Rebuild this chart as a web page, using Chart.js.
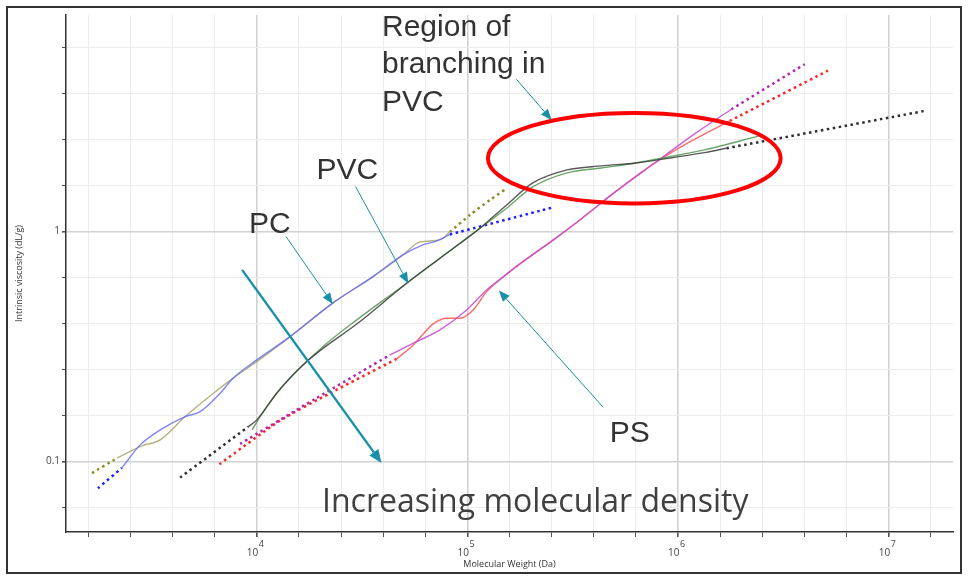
<!DOCTYPE html>
<html lang="en">
<head>
  <meta charset="UTF-8">
  <title>Intrinsic viscosity vs molecular weight</title>
  <script src="https://cdn.jsdelivr.net/npm/chart.js@4.4.1/dist/chart.umd.min.js"></script>
  <style>
    body { margin: 0; background: #fff; }
    #wrap { width: 968px; height: 582px; }
  </style>
</head>
<body>
<div id="wrap"><canvas id="myChart" width="968" height="582"></canvas></div>

<script>
    // [molecular weight (Da), intrinsic viscosity (dL/g)]
    // PC sample A (blue)
    const pcA = [[2289, 0.0939], [2795, 0.1182], [3478, 0.1373], [4570, 0.1569], [5383, 0.1650],
        [6696, 0.1983], [7719, 0.2305], [10000, 0.2768], [14390, 0.3495], [23010, 0.4898],
        [35620, 0.6372], [49430, 0.7917], [61500, 0.8753], [71670, 0.9111], [82600, 0.9723]];
    const pcAFitLow = [[1761, 0.0766], [2289, 0.0939]];
    const pcAFitHigh = [[82600, 0.9723], [252500, 1.272]];

    // PC sample B (olive)
    const pcB = [[2167, 0.1035], [2848, 0.1170], [3478, 0.1243], [4570, 0.1569], [6227, 0.1983],
        [7719, 0.2305], [10000, 0.2721], [14390, 0.3495], [23010, 0.4898], [35620, 0.6372],
        [49430, 0.7917], [59530, 0.9020], [74050, 0.9203], [82600, 0.997]];
    const pcBFitLow = [[1650, 0.0891], [2167, 0.1035]];
    const pcBFitHigh = [[82600, 0.997], [102800, 1.182], [127900, 1.373], [152300, 1.533]];

    // PVC sample A (black)
    const pvcA = [[9094, 0.1416], [10000, 0.1518], [12440, 0.1983], [17270, 0.2721], [30900, 0.4063],
        [51470, 0.5966], [74050, 0.7663], [114700, 1.035], [153500, 1.306], [204300, 1.628],
        [297400, 1.855], [432600, 1.931], [629500, 1.989], [915400, 2.091], [1331000, 2.206],
        [1699000, 2.305]];
    const pvcAFitLow = [[4326, 0.0852], [9094, 0.1416]];
    const pvcAFitHigh = [[1699000, 2.305], [14800000, 3.348]];

    // PVC sample B (green)
    const pvcB = [[9500, 0.1373], [10370, 0.1569], [12900, 0.2071], [20630, 0.3162], [29810, 0.4132],
        [51470, 0.5966], [74050, 0.7663], [114700, 1.035], [153500, 1.264], [204300, 1.564],
        [297400, 1.800], [432600, 1.892], [629500, 1.989], [915400, 2.119], [1331000, 2.266],
        [2425000, 2.607]];

    // PS sample A (magenta)
    const psA = [[42890, 0.2910], [55330, 0.3271], [74050, 0.3737], [99130, 0.4565], [123300, 0.5578],
        [147800, 0.6353], [177500, 0.7237], [255900, 0.9203], [341800, 1.124], [510400, 1.503],
        [775400, 1.989], [1236000, 2.714], [1792000, 3.405]];
    const psAFitLow = [[8334, 0.1194], [18910, 0.1873], [42890, 0.2910]];
    const psAFitHigh = [[1792000, 3.405], [3990000, 5.343]];

    // PS sample B (red)
    const psB = [[46140, 0.2796], [55330, 0.3216], [68830, 0.3971], [79660, 0.4202], [92130, 0.4202],
        [106500, 0.4565], [123300, 0.5484], [147800, 0.6353], [177500, 0.7237], [255900, 0.9203],
        [341800, 1.124], [510400, 1.503], [775400, 1.989], [1136000, 2.455], [1759000, 3.029]];
    const psBFitLow = [[6645, 0.0974], [12900, 0.1508], [22270, 0.1983], [46140, 0.2796]];
    const psBFitHigh = [[1759000, 3.029], [5147000, 5.012]];

    // axis ranges and labelled ticks
    const xRange = [1242, 20200000];
    const yRange = [0.0494, 8.75];
    const xDecades = [4, 5, 6, 7];
    const yLabels = [0.1, 1];

    // callouts, placed in data units
    const callouts = [
        {text: ['PC'], at: [9193, 0.987]},
        {text: ['PVC'], at: [19220, 1.690]},
        {text: ['PS'], at: [474200, 0.1218]},
        {text: ['Region of', 'branching in', 'PVC'], at: [39300, 7.095]},
        {text: ['Increasing molecular density'], at: [20400, 0.0606], family: '"Open Sans"', size: 32}
    ];
    const arrows = [
        {from: [13770, 0.951], to: [22940, 0.4849]},
        {from: [29420, 1.572], to: [52390, 0.5954]},
        {from: [439400, 0.1729], to: [141100, 0.5539]},
        {from: [170800, 4.598], to: [251100, 3.060]},
        {from: [8517, 0.6816], to: [39080, 0.0987], thick: true}
    ];
    const branchRegion = {x: [125100, 3070000], y: [1.326, 3.282]};

    function xy(rows) {
        return rows.map(r => ({x: r[0], y: r[1]}));
    }

    function solid(rows, color) {
        return {
            data: xy(rows), showLine: true, borderColor: color, borderWidth: 1.4,
            pointRadius: 0, cubicInterpolationMode: 'monotone', fill: false
        };
    }

    function dotted(rows, color) {
        return {
            data: xy(rows), showLine: true, borderColor: color, borderWidth: 2.5,
            borderDash: [2.5, 3.5], pointRadius: 0, tension: 0.2, fill: false
        };
    }

    function isDecade(v) {
        const l = Math.log10(v);
        return Math.abs(l - Math.round(l)) < 1e-6;
    }

    function fifthDecadeTicks(scale) {
        const lo = Math.ceil(Math.log10(scale.min) * 5 - 1e-9);
        const hi = Math.floor(Math.log10(scale.max) * 5 + 1e-9);
        const out = [];
        for (let k = lo; k <= hi; k++) out.push({value: Math.pow(10, k / 5)});
        scale.ticks = out;
    }

    function drawArrow(ctx, x1, y1, x2, y2, len, wid) {
        const a = Math.atan2(y2 - y1, x2 - x1);
        const bx = x2 - len * Math.cos(a), by = y2 - len * Math.sin(a);
        ctx.beginPath();
        ctx.moveTo(x1, y1);
        ctx.lineTo(bx, by);
        ctx.stroke();
        ctx.beginPath();
        ctx.moveTo(x2, y2);
        ctx.lineTo(bx + wid / 2 * Math.sin(a), by - wid / 2 * Math.cos(a));
        ctx.lineTo(bx - wid / 2 * Math.sin(a), by + wid / 2 * Math.cos(a));
        ctx.closePath();
        ctx.fill();
    }

    const overlay = {
        id: 'overlay',
        afterDatasetsDraw(chart) {
            const {ctx, scales: {x, y}} = chart;
            ctx.save();

            // region of branching
            const l = x.getPixelForValue(branchRegion.x[0]), r = x.getPixelForValue(branchRegion.x[1]);
            const t = y.getPixelForValue(branchRegion.y[1]), b = y.getPixelForValue(branchRegion.y[0]);
            ctx.strokeStyle = '#ff0000';
            ctx.lineWidth = 4;
            ctx.beginPath();
            ctx.ellipse((l + r) / 2, (t + b) / 2, (r - l) / 2, (b - t) / 2, 0, 0, Math.PI * 2);
            ctx.stroke();

            // arrows
            ctx.strokeStyle = '#1790a8';
            ctx.fillStyle = '#1790a8';
            arrows.forEach(a => {
                ctx.lineWidth = a.thick ? 2.4 : 1;
                drawArrow(ctx,
                    x.getPixelForValue(a.from[0]), y.getPixelForValue(a.from[1]),
                    x.getPixelForValue(a.to[0]), y.getPixelForValue(a.to[1]),
                    a.thick ? 13 : 11, a.thick ? 11 : 9);
            });

            // text callouts
            ctx.textAlign = 'left';
            ctx.textBaseline = 'alphabetic';
            callouts.forEach(c => {
                const size = c.size || 30;
                ctx.font = size + 'px ' + (c.family || '"Liberation Sans", Arial, sans-serif');
                ctx.fillStyle = c.family ? '#404040' : '#333333';
                const px = x.getPixelForValue(c.at[0]);
                const py = y.getPixelForValue(c.at[1]);
                c.text.forEach((line, i) => ctx.fillText(line, px, py + i * 37.5));
            });
            ctx.restore();
        },
        afterDraw(chart) {
            const {ctx, scales: {x}} = chart;
            ctx.save();
            // 10^n labels under the x axis
            ctx.fillStyle = '#444';
            ctx.textBaseline = 'alphabetic';
            xDecades.forEach(n => {
                const px = x.getPixelForValue(Math.pow(10, n));
                ctx.font = '10px "Open Sans", sans-serif';
                ctx.textAlign = 'right';
                ctx.fillText('10', px + 1.5, 556);
                ctx.font = '9px "Open Sans", sans-serif';
                ctx.textAlign = 'left';
                ctx.fillText(String(n), px + 2, 547);
            });
            // outer frame
            ctx.strokeStyle = '#333';
            ctx.lineWidth = 2;
            ctx.strokeRect(7, 7, chart.width - 14, chart.height - 16);
            ctx.restore();
        }
    };

    const gridColor = c => (c.tick && isDecade(c.tick.value)) ? '#d2d2d2' : '#ececec';
    const gridWidth = c => (c.tick && isDecade(c.tick.value)) ? 1.6 : 1;

    const config = {
        type: 'scatter',
        data: {
            datasets: [
                solid(pvcA, 'rgba(60,60,60,0.85)'),
                solid(pvcB, 'rgba(80,150,80,0.85)'),
                solid(psA, 'rgba(200,80,210,0.9)'),
                solid(psB, 'rgba(255,80,80,0.85)'),
                solid(pcA, 'rgba(100,100,255,0.8)'),
                solid(pcB, 'rgba(160,160,90,0.8)'),
                dotted(pcAFitLow, '#2020ff'),
                dotted(pcAFitHigh, '#2020ff'),
                dotted(pcBFitLow, '#8c8c22'),
                dotted(pcBFitHigh, '#8c8c22'),
                dotted(pvcAFitLow, '#2e2e2e'),
                dotted(pvcAFitHigh, '#2e2e2e'),
                dotted(psAFitLow, '#b424b4'),
                dotted(psAFitHigh, '#b424b4'),
                dotted(psBFitLow, '#ff2424'),
                dotted(psBFitHigh, '#ff2424')
            ]
        },
        options: {
            responsive: false,
            animation: false,
            events: [],
            devicePixelRatio: 1,
            layout: {padding: {left: 0, top: 15, right: 15, bottom: 0}},
            plugins: {legend: {display: false}, tooltip: {enabled: false}},
            scales: {
                x: {
                    type: 'logarithmic',
                    min: xRange[0],
                    max: xRange[1],
                    bounds: 'data',
                    afterBuildTicks: fifthDecadeTicks,
                    afterFit: s => { s.height = 50; },
                    ticks: {callback: () => '', autoSkip: false, maxRotation: 0},
                    grid: {color: gridColor, lineWidth: gridWidth, tickColor: '#555', tickLength: 5},
                    border: {color: '#333', width: 1.5},
                    title: {
                        display: true, text: 'Molecular Weight (Da)', color: '#333',
                        font: {family: '"Open Sans", sans-serif', size: 9},
                        padding: {top: 0, bottom: 12}
                    }
                },
                y: {
                    type: 'logarithmic',
                    min: yRange[0],
                    max: yRange[1],
                    bounds: 'data',
                    afterBuildTicks: fifthDecadeTicks,
                    afterFit: s => { s.width = 66; },
                    ticks: {
                        autoSkip: false,
                        padding: 2,
                        color: '#444',
                        font: {family: '"Open Sans", sans-serif', size: 10},
                        callback: v => {
                            const hit = yLabels.find(t => Math.abs(t - v) < 1e-9);
                            return hit === undefined ? '' : String(hit);
                        }
                    },
                    grid: {color: gridColor, lineWidth: gridWidth, tickColor: '#555', tickLength: 4},
                    border: {color: '#333', width: 1.5},
                    title: {
                        display: true, text: 'Intrinsic viscosity (dL/g)', color: '#333',
                        font: {family: '"Open Sans", sans-serif', size: 9},
                        padding: {top: 14, bottom: 0}
                    }
                }
            }
        },
        plugins: [overlay]
    };

    const myChart = new Chart(document.getElementById('myChart'), config);
</script>
</body>
</html>
